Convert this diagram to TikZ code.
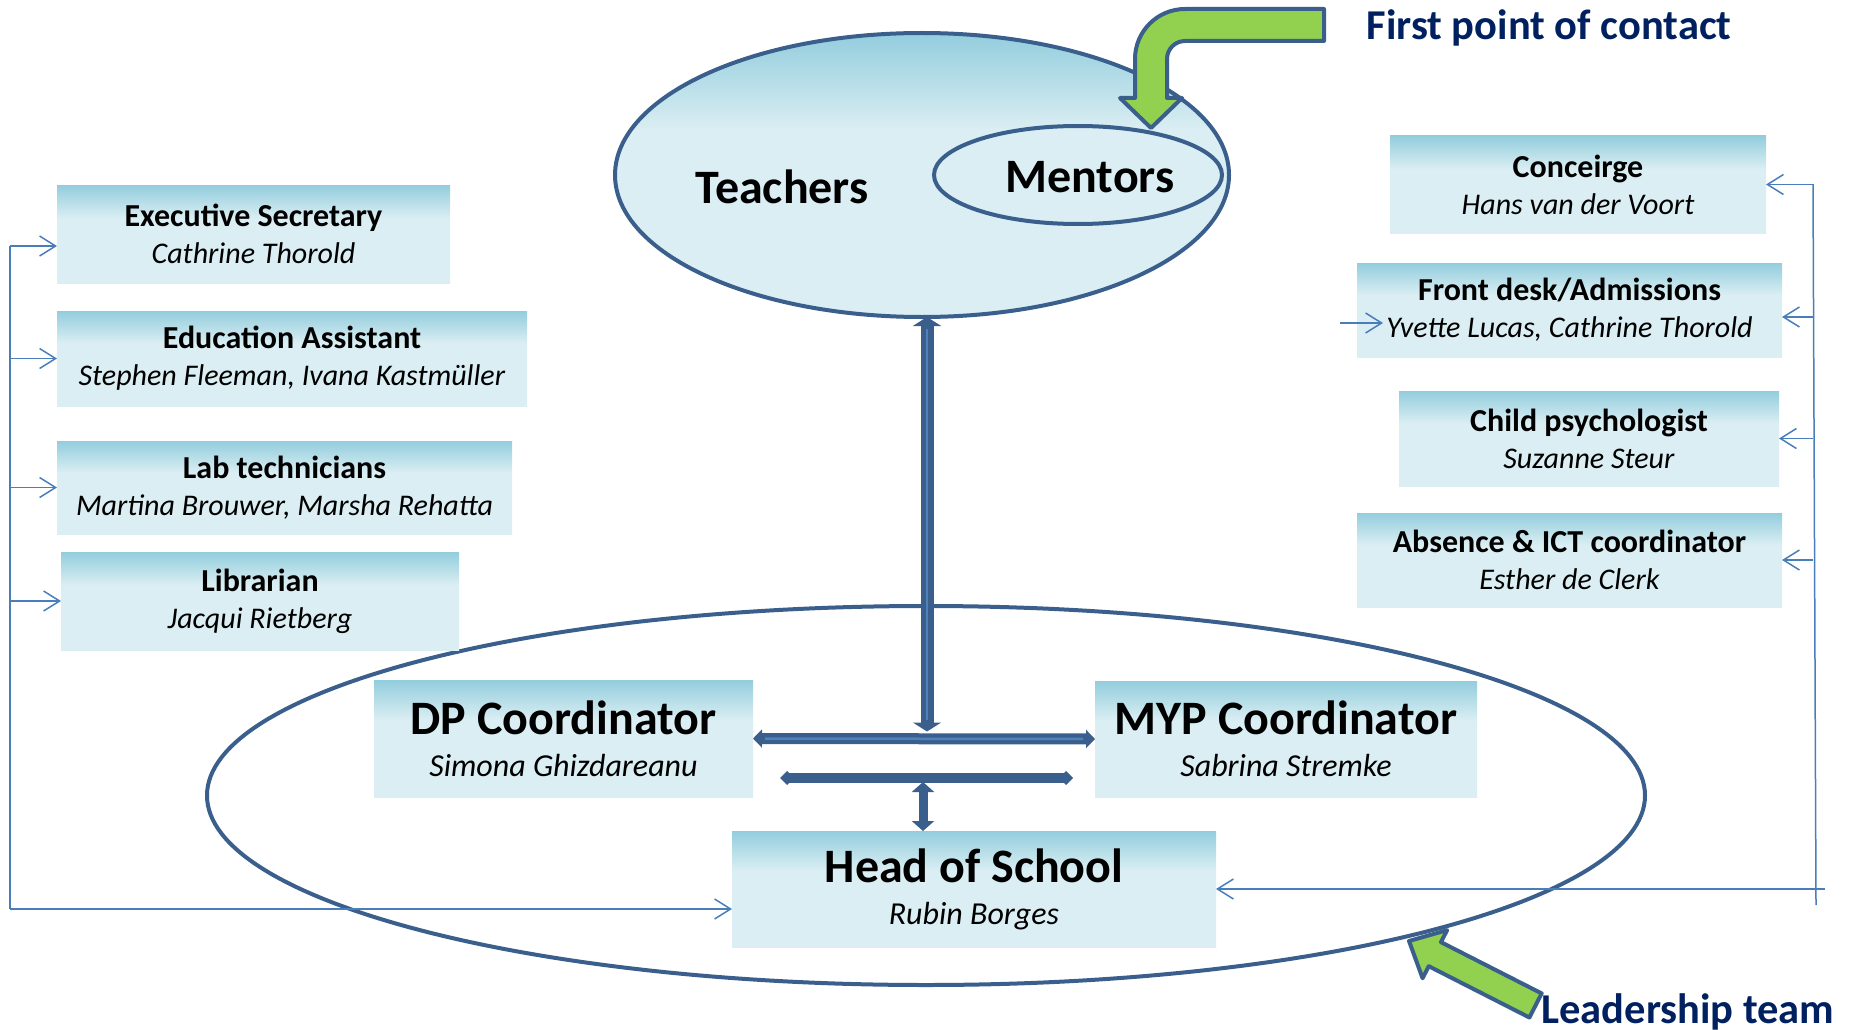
\documentclass[tikz,border=0pt]{standalone}
\usepackage{fontspec}
\setmainfont{Carlito}
\usetikzlibrary{arrows.meta,shapes.geometric}

\definecolor{boxtop}{HTML}{93CDDD}
\definecolor{boxlight}{HTML}{DAEEF3}
\definecolor{rim}{HTML}{3A5F8C}
\definecolor{glint}{HTML}{4F81BD}
\definecolor{wire}{HTML}{4A7EBB}
\definecolor{leaf}{HTML}{92D050}
\definecolor{navy}{HTML}{002060}
\pgfdeclareverticalshading{boxshade}{100bp}{color(0bp)=(boxlight); color(25bp)=(boxlight); color(58bp)=(boxlight); color(75bp)=(boxtop); color(100bp)=(boxtop)}
\newcommand{\post}[2]{{\fontsize{32}{37}\selectfont\bfseries #1}\\\textit{#2}}
\newcommand{\chief}[2]{{\fontsize{48}{52}\selectfont\bfseries #1}\\[5pt]{\fontsize{32}{40}\selectfont\itshape #2}}

\begin{document}
\begin{tikzpicture}[x=1pt,y=1pt,
        staff/.style={rectangle,shading=boxshade,inner sep=0pt,outer sep=0pt,align=center,font=\fontsize{30}{37}\selectfont},
        ring/.style={ellipse,draw=rim,line width=4pt,inner sep=0pt,outer sep=0pt},
        wirearrow/.style={draw=wire,line width=1.5pt,-{Straight Barb[length=16pt,width=20pt]}},
        fat/.style={draw=rim,line width=11pt},
        shine/.style={postaction={draw=glint,line width=2.5pt,-,shorten >=12pt,shorten <=12pt}},
        pointer/.style={fill=leaf,draw=rim,line width=4pt,line join=round},
        tag/.style={font=\fontsize{42.5}{46}\selectfont\bfseries,text=navy,anchor=base}]
        \useasboundingbox (0,0) rectangle (1852,-1030);

        \node[ring,minimum width=1438pt,minimum height=379pt] (leaders) at (926,-795.5) {};
        \node[ring,shading=boxshade,minimum width=614pt,minimum height=284pt] (teachers) at (922,-175) {};
        \node[ring,fill=boxlight,minimum width=288pt,minimum height=98pt] (mentors) at (1078,-175) {};
        \node[font=\fontsize{48}{52}\selectfont\bfseries] (teachlbl) at (782,-187) {Teachers};
        \node[font=\fontsize{48}{52}\selectfont\bfseries] (mentlbl) at (1090,-177) {Mentors};

        \node[staff,minimum width=393pt,minimum height=98pt] (exec) at (253.5,-234) {\post{Executive Secretary}{Cathrine Thorold}};
        \node[staff,minimum width=470pt,minimum height=95pt] (edu) at (292,-358.5) {\post{Education Assistant}{Stephen Fleeman, Ivana Kastmüller}};
        \node[staff,minimum width=455pt,minimum height=93pt] (lab) at (284.5,-487.5) {\post{Lab technicians}{Martina Brouwer, Marsha Rehatta}};
        \node[staff,minimum width=398pt,minimum height=98pt] (lib) at (260,-601) {\post{Librarian}{Jacqui Rietberg}};

        \node[staff,minimum width=376pt,minimum height=97pt] (conc) at (1578,-184.5) {\post{Conceirge}{Hans van der Voort}};
        \node[staff,minimum width=425pt,minimum height=94pt] (fdesk) at (1569.5,-310) {\post{Front desk/Admissions}{Yvette Lucas, Cathrine Thorold}};
        \node[staff,minimum width=380pt,minimum height=95pt] (child) at (1589,-438.5) {\post{Child psychologist}{Suzanne Steur}};
        \node[staff,minimum width=425pt,minimum height=94pt] (absn) at (1569.5,-560) {\post{Absence \& ICT coordinator}{Esther de Clerk}};

        \node[staff,minimum width=379pt,minimum height=117pt] (dp) at (563.5,-738.5) {\chief{DP Coordinator}{Simona Ghizdareanu}};
        \node[staff,minimum width=382pt,minimum height=116pt] (myp) at (1286,-739) {\chief{MYP Coordinator}{Sabrina Stremke}};
        \node[staff,minimum width=484pt,minimum height=116pt] (head) at (974,-889) {\chief{Head of School}{Rubin Borges}};

        \coordinate (hub) at ([xshift=5pt]teachers.south |- dp.east);
        \draw[fat,line width=13pt,shine,{Triangle[width=28pt,length=9pt]}-{Triangle[width=28pt,length=9pt]}] ([xshift=5pt]teachers.south) -- ([yshift=7pt]hub);
        \draw[fat,shine,{Triangle[width=18pt,length=9pt]}-{Triangle[width=18pt,length=9pt]}] (dp.east) -- (myp.west);
        \coordinate (barl) at (780,-778);
        \coordinate (barr) at (1073,-778);
        \draw[fat,line width=10pt,{Turned Square[width=14pt,length=14pt]}-{Turned Square[width=14pt,length=14pt]}] (barl) -- (barr);
        \coordinate (barmid) at (923,-782);
        \draw[draw=rim,line width=9pt,{Triangle[width=22pt,length=10pt]}-{Triangle[width=22pt,length=10pt]}] (barmid) -- (barmid |- head.north);

        \coordinate (ltop) at (10,-246);
        \coordinate (lbot) at (10,-909);
        \draw[draw=wire,line width=1.5pt] (ltop) -- (lbot);
        \draw[wirearrow] (ltop) -- (ltop -| exec.west);
        \foreach \n in {edu,lab,lib}
            \draw[wirearrow] (ltop |- \n.west) -- (\n.west);
        \draw[wirearrow] (lbot) -- (lbot -| head.west);

        \coordinate (rtop) at (1813,-184);
        \coordinate (rbot) at (1816,-905);
        \coordinate (rend) at (1825,-889);
        \draw[draw=wire,line width=1.5pt] (rtop) -- (rbot);
        \foreach \n in {conc,child,absn}
            \draw[wirearrow] (rtop |- \n.east) -- (\n.east);
        \coordinate (fdrow) at ([yshift=-7pt]fdesk.east);
        \draw[wirearrow] (rtop |- fdrow) -- (fdrow);
        \coordinate (fdin) at (1340,-323);
        \draw[wirearrow] (fdin) -- ++(43,0);
        \draw[wirearrow] (rend) -- (head.east);

        \draw[pointer] (1324,-9) -- (1185,-9) arc[start angle=90,end angle=180,radius=50] -- (1135,-98) -- (1120,-98) -- (1151,-128) -- (1182,-98) -- (1167,-98) -- (1167,-59) arc[start angle=180,end angle=90,radius=18] -- (1324,-41) -- cycle;
        \begin{scope}[shift={(1409,-941)},rotate=-27]
            \draw[pointer] (0,0) -- (29,27) -- (29,13.5) -- (142,13.5) -- (142,-13.5) -- (29,-13.5) -- (29,-27) -- cycle;
        \end{scope}
        \node[tag] (contact) at (1549,-40) {First point of contact};
        \node[tag] (leadlbl) at (1688,-1023) {Leadership team};
    \end{tikzpicture}
\end{document}
